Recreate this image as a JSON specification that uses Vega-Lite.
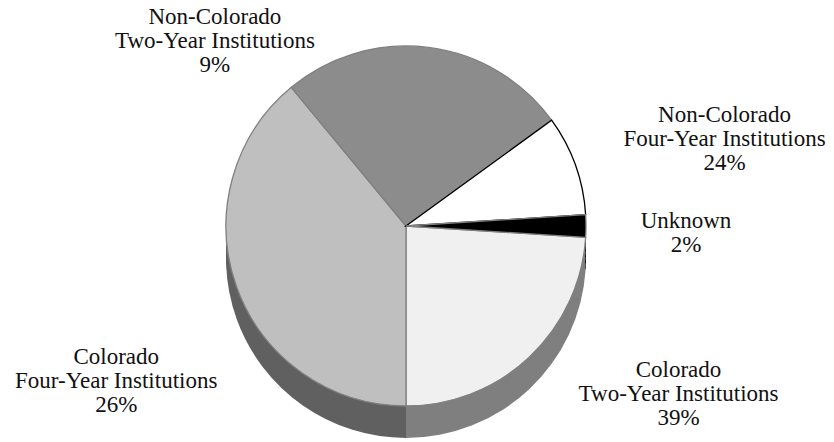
{
  "$schema": "https://vega.github.io/schema/vega-lite/v6.json",
  "width": 812,
  "height": 432,
  "autosize": {"type": "none"},
  "padding": {"left": 0, "right": 22, "top": 10, "bottom": 0},
  "background": "white",
  "config": {"view": {"stroke": null}},
  "data": {
    "values": [
      {"institution": "Colorado Two-Year Institutions", "label": "Colorado\nTwo-Year Institutions\n39%", "share": 24, "seq": 1},
      {"institution": "Colorado Four-Year Institutions", "label": "Colorado\nFour-Year Institutions\n26%", "share": 39, "seq": 2},
      {"institution": "Non-Colorado Two-Year Institutions", "label": "Non-Colorado\nTwo-Year Institutions\n9%", "share": 26, "seq": 3},
      {"institution": "Non-Colorado Four-Year Institutions", "label": "Non-Colorado\nFour-Year Institutions\n24%", "share": 9, "seq": 4},
      {"institution": "Unknown", "label": "Unknown\n2%", "share": 2, "seq": 5}
    ]
  },
  "encoding": {
    "theta": {"field": "share", "type": "quantitative", "stack": true, "scale": {"range": [1.6336, 7.9168]}},
    "order": {"field": "seq", "type": "quantitative"}
  },
  "layer": [
    {"mark": {"type": "arc", "radius": 180, "yOffset": 32},
     "encoding": {"color": {"field": "institution", "type": "nominal", "legend": null,
       "scale": {"domain": ["Colorado Two-Year Institutions", "Colorado Four-Year Institutions", "Non-Colorado Two-Year Institutions", "Non-Colorado Four-Year Institutions", "Unknown"], "range": ["#7f7f7f", "#606060", "#5a5a5a", "#a0a0a0", "#000000"]}}}},
    {"mark": {"type": "arc", "radius": 180, "yOffset": 26},
     "encoding": {"color": {"field": "institution", "type": "nominal", "legend": null,
       "scale": {"domain": ["Colorado Two-Year Institutions", "Colorado Four-Year Institutions", "Non-Colorado Two-Year Institutions", "Non-Colorado Four-Year Institutions", "Unknown"], "range": ["#7f7f7f", "#606060", "#5a5a5a", "#a0a0a0", "#000000"]}}}},
    {"mark": {"type": "arc", "radius": 180, "yOffset": 20},
     "encoding": {"color": {"field": "institution", "type": "nominal", "legend": null,
       "scale": {"domain": ["Colorado Two-Year Institutions", "Colorado Four-Year Institutions", "Non-Colorado Two-Year Institutions", "Non-Colorado Four-Year Institutions", "Unknown"], "range": ["#7f7f7f", "#606060", "#5a5a5a", "#a0a0a0", "#000000"]}}}},
    {"mark": {"type": "arc", "radius": 180, "yOffset": 14},
     "encoding": {"color": {"field": "institution", "type": "nominal", "legend": null,
       "scale": {"domain": ["Colorado Two-Year Institutions", "Colorado Four-Year Institutions", "Non-Colorado Two-Year Institutions", "Non-Colorado Four-Year Institutions", "Unknown"], "range": ["#7f7f7f", "#606060", "#5a5a5a", "#a0a0a0", "#000000"]}}}},
    {"mark": {"type": "arc", "radius": 180, "yOffset": 8},
     "encoding": {"color": {"field": "institution", "type": "nominal", "legend": null,
       "scale": {"domain": ["Colorado Two-Year Institutions", "Colorado Four-Year Institutions", "Non-Colorado Two-Year Institutions", "Non-Colorado Four-Year Institutions", "Unknown"], "range": ["#7f7f7f", "#606060", "#5a5a5a", "#a0a0a0", "#000000"]}}}},
    {"mark": {"type": "arc", "radius": 180, "yOffset": 3},
     "encoding": {"color": {"field": "institution", "type": "nominal", "legend": null,
       "scale": {"domain": ["Colorado Two-Year Institutions", "Colorado Four-Year Institutions", "Non-Colorado Two-Year Institutions", "Non-Colorado Four-Year Institutions", "Unknown"], "range": ["#7f7f7f", "#606060", "#5a5a5a", "#a0a0a0", "#000000"]}}}},
    {"mark": {"type": "arc", "radius": 180, "strokeWidth": 1.3},
     "encoding": {
       "color": {"field": "institution", "type": "nominal", "legend": null,
         "scale": {"domain": ["Colorado Two-Year Institutions", "Colorado Four-Year Institutions", "Non-Colorado Two-Year Institutions", "Non-Colorado Four-Year Institutions", "Unknown"], "range": ["#f0f0f0", "#bfbfbf", "#8c8c8c", "#ffffff", "#000000"]}},
       "stroke": {"condition": {"test": "datum.seq === 4", "value": "#000000"}, "value": "#808080"}}},
    {"mark": {"type": "text", "radius": 309, "dx": 61, "dy": -81, "font": "Liberation Serif", "fontSize": 23, "lineBreak": "\n", "lineHeight": 24, "align": "center", "baseline": "middle", "color": "#111111"},
     "encoding": {"detail": {"field": "institution", "type": "nominal"}, "text": {"condition": {"test": "datum.seq === 1", "field": "label"}, "value": ""}}},
    {"mark": {"type": "text", "radius": 325, "dx": 16, "dy": 21, "font": "Liberation Serif", "fontSize": 23, "lineBreak": "\n", "lineHeight": 24, "align": "center", "baseline": "middle", "color": "#111111"},
     "encoding": {"detail": {"field": "institution", "type": "nominal"}, "text": {"condition": {"test": "datum.seq === 2", "field": "label"}, "value": ""}}},
    {"mark": {"type": "text", "radius": 159, "dx": -211, "dy": -51, "font": "Liberation Serif", "fontSize": 23, "lineBreak": "\n", "lineHeight": 24, "align": "center", "baseline": "middle", "color": "#111111"},
     "encoding": {"detail": {"field": "institution", "type": "nominal"}, "text": {"condition": {"test": "datum.seq === 3", "field": "label"}, "value": ""}}},
    {"mark": {"type": "text", "radius": 329, "dx": 9, "dy": 0, "font": "Liberation Serif", "fontSize": 23, "lineBreak": "\n", "lineHeight": 24, "align": "center", "baseline": "middle", "color": "#111111"},
     "encoding": {"detail": {"field": "institution", "type": "nominal"}, "text": {"condition": {"test": "datum.seq === 4", "field": "label"}, "value": ""}}},
    {"mark": {"type": "text", "radius": 280, "dx": 0, "dy": -5, "font": "Liberation Serif", "fontSize": 23, "lineBreak": "\n", "lineHeight": 24, "align": "center", "baseline": "middle", "color": "#111111"},
     "encoding": {"detail": {"field": "institution", "type": "nominal"}, "text": {"condition": {"test": "datum.seq === 5", "field": "label"}, "value": ""}}}
  ],
  "resolve": {"scale": {"color": "independent"}}
}
